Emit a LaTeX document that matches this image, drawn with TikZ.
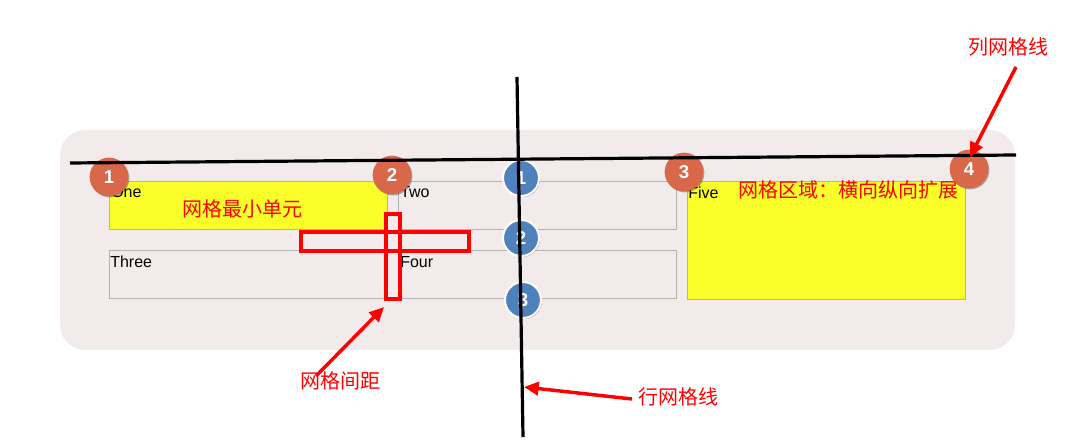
\documentclass[tikz,border=0pt]{standalone}
\usepackage{fontspec}
\setmainfont{Liberation Sans}
\newfontfamily\cjk{Noto Sans CJK SC}
\usetikzlibrary{arrows.meta,shadows}
\definecolor{bgc}{RGB}{243,235,235}
\definecolor{cellyellow}{RGB}{250,255,42}
\definecolor{cellborder}{RGB}{178,178,178}
\definecolor{orangec}{RGB}{217,103,74}
\definecolor{bluec}{RGB}{79,129,189}
\tikzset{
  cell/.style={draw=cellborder, line width=0.75pt, anchor=north west, minimum width=208.5pt, minimum height=36pt, inner sep=0pt},
  celltext/.style={anchor=base west, font=\fontsize{12pt}{12pt}\selectfont, inner sep=0pt},
  redlabel/.style={text=red, font=\cjk\fontsize{15pt}{15pt}\selectfont, inner sep=0pt},
  orangedot/.style={circle, fill=orangec, minimum size=29pt, inner sep=0pt, text=white,
    font=\bfseries\fontsize{14pt}{14pt}\selectfont,
    drop shadow={shadow xshift=0.8pt, shadow yshift=-0.8pt, opacity=0.3, fill=black}},
  bluedot/.style={circle, fill=bluec, draw=white, line width=1.5pt, minimum size=27pt, inner sep=0pt, text=white,
    font=\bfseries\fontsize{14pt}{14pt}\selectfont,
    drop shadow={shadow xshift=0.8pt, shadow yshift=-0.8pt, opacity=0.3, fill=black}},
  gridline/.style={line width=2.4pt, black},
  redarrow/.style={red, line width=2.6pt, -{Triangle[length=11pt, width=10pt]}},
  crossbox/.style={draw=red, line width=2.4pt}
}
\begin{document}
\begin{tikzpicture}[x=0.75pt,y=-0.75pt]
\useasboundingbox (0,0) rectangle (1079,448);
% background panel
\fill[bgc, rounded corners=19pt] (60,130) rectangle (1015,350);
% cells
\node[cell, fill=cellyellow] (one) at (109,181) {};
\node[cell] (two) at (398,181) {};
\node[cell] (three) at (109,250) {};
\node[cell] (four) at (398,250) {};
\node[cell, fill=cellyellow, minimum height=88.5pt] (five) at (687,181) {};
\node[celltext] (tone) at (111,198) {One};
\node[celltext] (ttwo) at (400,198) {Two};
\node[celltext] (tthree) at (110,267.5) {Three};
\node[celltext] (tfour) at (400,267.5) {Four};
\node[celltext] (tfive) at (688,198.5) {Five};
\node[redlabel] (minunit) at (242,209) {网格最小单元};
\node[redlabel, anchor=west] (area) at (738,190) {网格区域：横向纵向扩展};
% gap cross
\draw[crossbox] (301,232) rectangle (469,251);
\draw[crossbox] (386,214) rectangle (400,299);
\coordinate (crossbottom) at (384,307);
% column markers
\node[orangedot] (c1) at (109,177) {1};
\node[orangedot] (c2) at (392,175) {2};
\node[orangedot] (c3) at (684,172) {3};
\node[orangedot] (c4) at (969,169) {4};
% row markers
\node[bluedot] (r1) at (521,178) {1};
\node[bluedot] (r2) at (521,238) {2};
\node[bluedot] (r3) at (523,300) {3};
% grid lines
\coordinate (hl) at (70,163);
\coordinate (hr) at (1016,155);
\coordinate (vt) at (517,77);
\coordinate (vb) at (523,437);
\draw[gridline] (hl) -- (hr);
\draw[gridline] (vt) -- (vb);
% annotations
\node[redlabel] (collabel) at (1008,47) {列网格线};
\node[redlabel] (gaplabel) at (340,381) {网格间距};
\node[redlabel] (rowlabel) at (678,397) {行网格线};
\coordinate (colstart) at (1016,67);
\coordinate (coltip) at (970,157);
\coordinate (gapstart) at (316,376);
\coordinate (rowstart) at (632,399);
\coordinate (rowtip) at (524,387);
\draw[redarrow] (colstart) -- (coltip);
\draw[redarrow] (gapstart) -- (crossbottom);
\draw[redarrow] (rowstart) -- (rowtip);
\end{tikzpicture}
\end{document}
